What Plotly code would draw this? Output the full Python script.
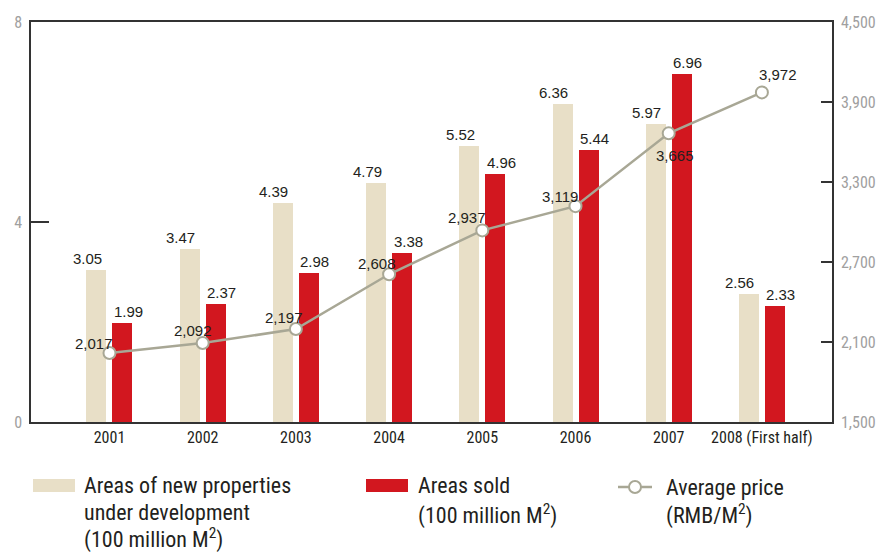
import plotly.graph_objects as go

categories = ["2001", "2002", "2003", "2004", "2005", "2006", "2007", "2008 (First half)"]
new_dev = [3.05, 3.47, 4.39, 4.79, 5.52, 6.36, 5.97, 2.56]
sold = [1.99, 2.37, 2.98, 3.38, 4.96, 5.44, 6.96, 2.33]
price = [2017, 2092, 2197, 2608, 2937, 3119, 3665, 3972]
price_label_shift = [(-15, 10), (-10, 13), (-12, 12), (-12, 11), (-15, 13), (-16, 10), (6, -22), (16, 18)]

BEIGE = "#E8DFC7"
RED = "#D2171F"
LINEC = "#A8A795"
TXT = "#231F20"
GREY = "#A0A0A0"
NARROW = "Liberation Sans Narrow, Roboto Condensed, Arial Narrow, Liberation Sans, sans-serif"
REG = "Liberation Sans, Arial, sans-serif"

xs = list(range(len(categories)))
PX = 93.2  # pixels per category
bw = 20 / PX

fig = go.Figure()
fig.add_trace(go.Bar(x=xs, y=new_dev, width=bw, offset=-23 / PX, marker_color=BEIGE,
                     marker_line_width=0, showlegend=False, yaxis="y"))
fig.add_trace(go.Bar(x=xs, y=sold, width=bw, offset=3 / PX, marker_color=RED,
                     marker_line_width=0, showlegend=False, yaxis="y"))
fig.add_trace(go.Scatter(x=xs, y=price, mode="lines+markers", yaxis="y2",
                         line=dict(color=LINEC, width=2.5),
                         marker=dict(size=12, color="white", line=dict(color=LINEC, width=2)),
                         showlegend=False, cliponaxis=False))

ann = []
for i, v in enumerate(new_dev):
    ann.append(dict(x=i - 22 / PX, y=v, xref="x", yref="y", text=f"{v:.2f}", showarrow=False,
                    yanchor="bottom", yshift=1, font=dict(family=REG, size=15, color=TXT)))
for i, v in enumerate(sold):
    ann.append(dict(x=i + 19 / PX, y=v, xref="x", yref="y", text=f"{v:.2f}", showarrow=False,
                    yanchor="bottom", yshift=1, font=dict(family=REG, size=15, color=TXT)))
for i, v in enumerate(price):
    dx, dy = price_label_shift[i]
    ann.append(dict(x=i, y=v, xref="x", yref="y2", text=f"{v:,}", showarrow=False,
                    xshift=dx, yshift=dy, font=dict(family=REG, size=15, color=TXT)))

def px_x(x):
    return (x - 31) / 801

def px_y(y):
    return (422 - y) / 400

leg_font = dict(family=NARROW, size=22, color=TXT)
legend_lines = [
    (82, 485, "Areas of new properties"),
    (82, 512, "under development"),
    (82, 538, "(100 million M<sup>2</sup>)"),
    (416, 486, "Areas sold"),
    (416, 514, "(100 million M<sup>2</sup>)"),
    (664, 487, "Average price"),
    (664, 514, "(RMB/M<sup>2</sup>)"),
]
for x, y, t in legend_lines:
    ann.append(dict(x=px_x(x), y=px_y(y), xref="paper", yref="paper", text=t, showarrow=False,
                    xanchor="left", yanchor="middle", font=leg_font))

shapes = [
    dict(type="rect", xref="paper", yref="paper", x0=px_x(33), x1=px_x(75), y0=px_y(479), y1=px_y(492),
         fillcolor=BEIGE, line_width=0),
    dict(type="rect", xref="paper", yref="paper", x0=px_x(366), x1=px_x(408), y0=px_y(479), y1=px_y(492),
         fillcolor=RED, line_width=0),
    dict(type="line", xref="paper", yref="paper", x0=px_x(618), x1=px_x(652), y0=px_y(487), y1=px_y(487),
         line=dict(color=LINEC, width=2.5)),
    dict(type="circle", xref="paper", yref="paper", x0=px_x(629), x1=px_x(641), y0=px_y(481), y1=px_y(493),
         fillcolor="white", line=dict(color=LINEC, width=2)),
]

fig.update_layout(
    width=888, height=554, autosize=False,
    margin=dict(l=31, r=56, t=22, b=132),
    paper_bgcolor="white", plot_bgcolor="white",
    barmode="overlay", bargap=0,
    showlegend=False,
    xaxis=dict(range=[-0.842, 7.752], tickvals=xs, ticktext=categories, showgrid=False, zeroline=False,
               showline=True, mirror=True, linecolor="#333333", linewidth=1.5, ticks="",
               tickfont=dict(family=NARROW, size=16, color=TXT)),
    yaxis=dict(range=[0, 8], tickvals=[0, 4, 8], showgrid=False, zeroline=False, showline=True,
               linecolor="#333333", linewidth=1.5, ticks="inside", ticklen=18, tickwidth=1.5,
               tickcolor="#333333", tickfont=dict(family=NARROW, size=16, color=GREY),
               ticklabelstandoff=4),
    yaxis2=dict(range=[1500, 4500], tickvals=[1500, 2100, 2700, 3300, 3900, 4500], tickformat=",",
                overlaying="y", side="right", showgrid=False, zeroline=False, showline=True,
                linecolor="#333333", linewidth=1.5, ticks="inside", ticklen=11, tickwidth=1.5,
                tickcolor="#333333", tickfont=dict(family=NARROW, size=16, color=GREY),
                ticklabelstandoff=4),
    annotations=ann,
    shapes=shapes,
)

fig.write_html("out.html")
